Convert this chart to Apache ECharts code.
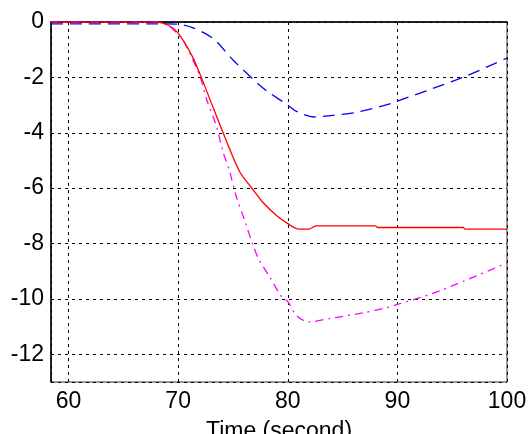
<!DOCTYPE html>
<html>
<head>
<meta charset="utf-8">
<script src="https://cdn.jsdelivr.net/npm/echarts@6/dist/echarts.min.js"></script>
<style>
  html, body { margin: 0; padding: 0; background: #fff; }
  #chart { width: 528px; height: 434px; }
</style>
</head>
<body>
<div id="chart"></div>
<script>
// [time, value] pairs
var bluePts = [[58.4, -0.07], [69, -0.07], [70, -0.08], [71.3, -0.2], [73.2, -0.6], [75, -1.37],
    [77.6, -2.34], [78.3, -2.55], [80, -3.0], [80.8, -3.23], [82.4, -3.43], [83.9, -3.38],
    [86, -3.28], [89.4, -2.95], [90, -2.86], [93.1, -2.42], [96.1, -1.98], [100, -1.3]];
var redPts = [[58.4, 0], [68, 0], [69, -0.1], [70, -0.4], [71.3, -1.25], [72.2, -2.09],
    [73.2, -3.1], [74.1, -4.0], [75.6, -5.4], [76.8, -6.04], [77.7, -6.5], [79, -7.0],
    [80, -7.28], [81, -7.48], [81.9, -7.48], [82.6, -7.36], [88, -7.36], [88.2, -7.42],
    [96, -7.42], [96.2, -7.48], [100, -7.48]];
var magentaPts = [[58.4, 0], [68, 0], [69, -0.1], [70, -0.45], [70.6, -0.76], [72, -1.97],
    [72.6, -2.8], [73.5, -3.77], [74.1, -4.7], [74.7, -5.4], [75.3, -6.3], [76.1, -7.2],
    [76.8, -8.03], [77.4, -8.6], [78.3, -9.17], [79.4, -9.9], [80, -10.1], [80.8, -10.6],
    [81.9, -10.83], [83.9, -10.7], [86.9, -10.5], [89, -10.32], [90, -10.2], [93.1, -9.82],
    [96.1, -9.35], [100, -8.7]];
var xName = 'Time (second)';

var chart = echarts.init(document.getElementById('chart'));

var font = 'Liberation Sans, Arial, sans-serif';
var gridLine = { show: true, lineStyle: { color: '#000', type: [3, 4], width: 1 } };

var option = {
    backgroundColor: '#fff',
    animation: false,
    grid: {
        left: 51, right: 21, top: 22, bottom: 52,
        outerBoundsMode: 'none', containLabel: false,
        show: true, borderColor: '#333', borderWidth: 1
    },
    xAxis: {
        type: 'value',
        min: 58.4,
        max: 100,
        splitNumber: 5,
        name: xName,
        nameLocation: 'middle',
        nameGap: 38,
        nameMoveOverlap: false,
        nameTextStyle: { fontFamily: font, fontSize: 23, color: '#000' },
        axisLine: { lineStyle: { color: '#000', width: 1.5 } },
        axisTick: { show: false },
        axisLabel: { showMinLabel: false, fontFamily: font, fontSize: 23, color: '#000', margin: 8 },
        splitLine: gridLine
    },
    yAxis: {
        type: 'value',
        min: -13,
        max: 0,
        splitNumber: 6,
        axisLine: { show: true, lineStyle: { color: '#000', width: 1.5 } },
        axisTick: { show: false },
        axisLabel: { showMinLabel: false, fontFamily: font, fontSize: 23, color: '#000', margin: 7 },
        splitLine: gridLine
    },
    series: [
        {
            type: 'line', data: bluePts, showSymbol: false, smooth: 0.3,
            lineStyle: { color: '#0000ff', width: 1.3, type: [12, 7] }
        },
        {
            type: 'line', data: magentaPts, showSymbol: false, smooth: 0.3,
            lineStyle: { color: '#ff00ff', width: 1.3, type: [8, 5, 2, 5] }
        },
        {
            type: 'line', data: redPts, showSymbol: false, smooth: 0.3,
            lineStyle: { color: '#ff0000', width: 1.3, type: 'solid' }
        }
    ]
};

chart.setOption(option);
</script>
</body>
</html>
